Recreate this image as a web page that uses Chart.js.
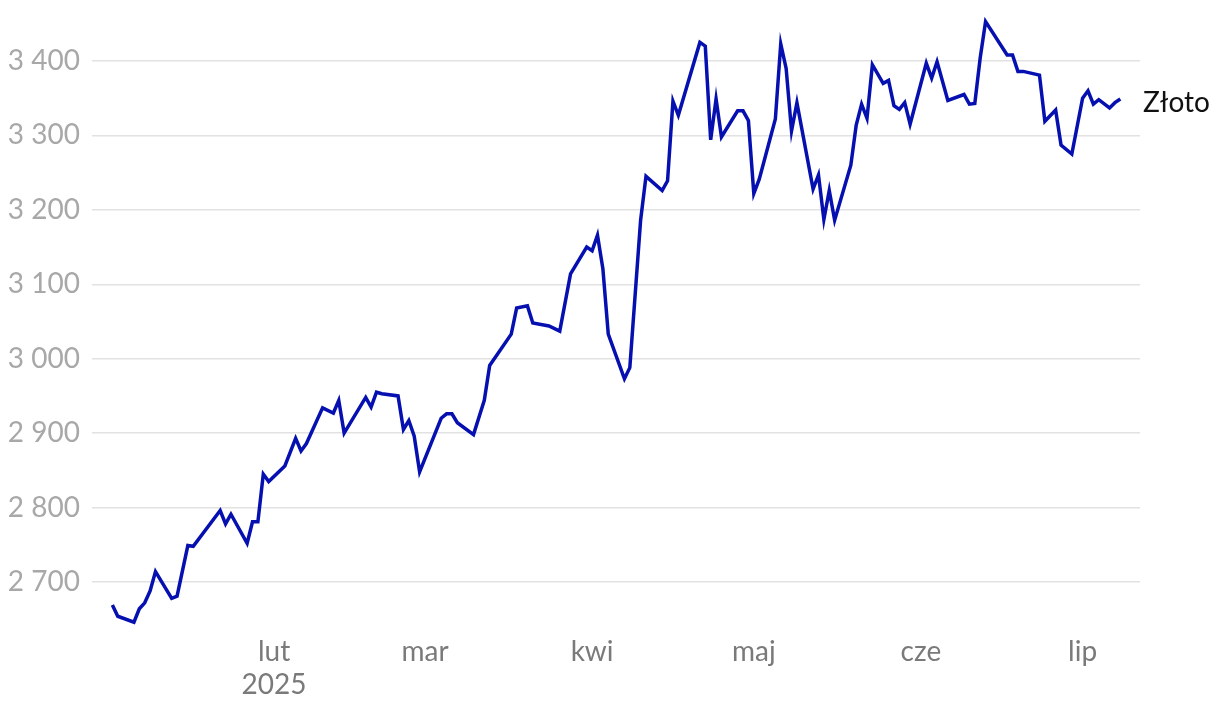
<!DOCTYPE html>
<html>
<head>
<meta charset="utf-8">
<script src="https://cdn.jsdelivr.net/npm/chart.js@4"></script>
<style>
  html, body { margin: 0; padding: 0; background: #fff; }
  #wrap { width: 1220px; height: 712px; }
</style>
</head>
<body>
<div id="wrap"><canvas id="goldChart"></canvas></div>
<script>
// Gold price (Złoto), 2025 – dates and closing values
const dates = [
  '2025-01-02','2025-01-03','2025-01-06','2025-01-07','2025-01-08','2025-01-09','2025-01-10',
  '2025-01-13','2025-01-14','2025-01-16','2025-01-17','2025-01-22','2025-01-23','2025-01-24',
  '2025-01-27','2025-01-28','2025-01-29','2025-01-30','2025-01-31','2025-02-03','2025-02-05',
  '2025-02-06','2025-02-07','2025-02-10','2025-02-12','2025-02-13','2025-02-14','2025-02-18',
  '2025-02-19','2025-02-20','2025-02-21','2025-02-24','2025-02-25','2025-02-26','2025-02-27',
  '2025-02-28','2025-03-04','2025-03-05','2025-03-06','2025-03-07','2025-03-10','2025-03-12',
  '2025-03-13','2025-03-17','2025-03-18','2025-03-20','2025-03-21','2025-03-24','2025-03-26',
  '2025-03-28','2025-03-31','2025-04-01','2025-04-02','2025-04-03','2025-04-04','2025-04-07',
  '2025-04-08','2025-04-10','2025-04-11','2025-04-14','2025-04-15','2025-04-16','2025-04-17',
  '2025-04-21','2025-04-22','2025-04-23','2025-04-24','2025-04-25','2025-04-28','2025-04-29',
  '2025-04-30','2025-05-01','2025-05-02','2025-05-05','2025-05-06','2025-05-07','2025-05-08',
  '2025-05-09','2025-05-12','2025-05-13','2025-05-14','2025-05-15','2025-05-16','2025-05-19',
  '2025-05-20','2025-05-21','2025-05-22','2025-05-23','2025-05-25','2025-05-26','2025-05-27',
  '2025-05-28','2025-05-29','2025-05-30','2025-06-02','2025-06-03','2025-06-04','2025-06-06',
  '2025-06-09','2025-06-10','2025-06-11','2025-06-12','2025-06-13','2025-06-17','2025-06-18',
  '2025-06-19','2025-06-20','2025-06-23','2025-06-24','2025-06-26','2025-06-27','2025-06-29',
  '2025-07-01','2025-07-02','2025-07-03','2025-07-04','2025-07-06','2025-07-07','2025-07-08'
];
const prices = [
  2669, 2654, 2646, 2664, 2672, 2688, 2714,
  2678, 2681, 2749, 2748, 2796, 2778, 2791,
  2752, 2781, 2781, 2845, 2835, 2856, 2893,
  2876, 2886, 2934, 2927, 2944, 2900, 2948,
  2935, 2955, 2953, 2950, 2905, 2917, 2896,
  2848, 2920, 2926, 2926, 2914, 2898, 2944,
  2991, 3033, 3068, 3071, 3048, 3044, 3037,
  3114, 3150, 3145, 3166, 3121, 3033, 2973,
  2988, 3186, 3245, 3226, 3239, 3346, 3327,
  3425, 3420, 3294, 3349, 3298, 3333, 3333,
  3320, 3222, 3241, 3322, 3423, 3390, 3306,
  3344, 3228, 3247, 3187, 3226, 3186, 3260,
  3314, 3342, 3323, 3395, 3370, 3374, 3340,
  3335, 3344, 3315, 3397, 3377, 3399, 3347,
  3355, 3342, 3343, 3404, 3453, 3408, 3408,
  3386, 3386, 3381, 3319, 3334, 3287, 3275,
  3350, 3360, 3342, 3348, 3337, 3344, 3349
];
const seriesName = 'Złoto';
const monthTicks = ['2025-02-01','2025-03-01','2025-04-01','2025-05-01','2025-06-01','2025-07-01'];
const monthLabels = [['lut', '2025'], 'mar', 'kwi', 'maj', 'cze', 'lip'];
const yTicks = [2700, 2800, 2900, 3000, 3100, 3200, 3300, 3400];

const DAY = 86400000;
const base = Date.UTC(2025, 0, 1);
const toDay = s => {
  const [y, m, d] = s.split('-').map(Number);
  return (Date.UTC(y, m - 1, d) - base) / DAY;
};
const tickDays = monthTicks.map(toDay);
const points = dates.map((d, i) => ({ x: toDay(d), y: prices[i] }));

const FONT = 'Lato, "Open Sans", sans-serif';
const fmt = v => String(v).replace(/\B(?=(\d{3})+(?!\d))/g, ' ');

// series name written next to the last point
const endLabel = {
  id: 'endLabel',
  afterDatasetsDraw(chart) {
    const meta = chart.getDatasetMeta(0);
    const last = meta.data[meta.data.length - 1];
    const ctx = chart.ctx;
    ctx.save();
    ctx.font = '28px ' + FONT;
    ctx.fillStyle = '#111';
    ctx.textBaseline = 'middle';
    ctx.fillText(seriesName, chart.chartArea.right + 3, last.y + 4);
    ctx.restore();
  }
};

new Chart(document.getElementById('goldChart'), {
  type: 'line',
  data: {
    datasets: [{
      label: seriesName,
      data: points,
      borderColor: '#0610b0',
      borderWidth: 3.5,
      pointRadius: 0,
      tension: 0,
      fill: false
    }]
  },
  options: {
    responsive: true,
    maintainAspectRatio: false,
    animation: false,
    layout: { padding: { top: 15, right: 80, left: 0, bottom: 0 } },
    plugins: { legend: { display: false }, tooltip: { enabled: false } },
    scales: {
      x: {
        type: 'linear',
        min: -2.78,
        max: 191.65,
        border: { display: false },
        grid: { display: false, drawTicks: false },
        afterBuildTicks: s => { s.ticks = tickDays.map(v => ({ value: v })); },
        afterFit: s => { s.height = 82; s.paddingLeft = 0; s.paddingRight = 0; },
        ticks: {
          autoSkip: false,
          maxRotation: 0,
          padding: 5,
          color: '#7a7a7a',
          font: { family: FONT, size: 28, lineHeight: 1.18 },
          callback: (v) => monthLabels[tickDays.indexOf(v)]
        }
      },
      y: {
        min: 2635.5,
        max: 3461.8,
        border: { display: false },
        grid: { color: '#e2e2e2', lineWidth: 1.5, drawTicks: false },
        afterBuildTicks: s => { s.ticks = yTicks.map(v => ({ value: v })); },
        afterFit: s => { s.width = 92; s.paddingTop = 0; s.paddingBottom = 0; },
        ticks: {
          padding: 12,
          color: '#a8a8a8',
          font: { family: FONT, size: 28 },
          callback: v => fmt(v)
        }
      }
    }
  },
  plugins: [endLabel]
});
</script>
</body>
</html>
